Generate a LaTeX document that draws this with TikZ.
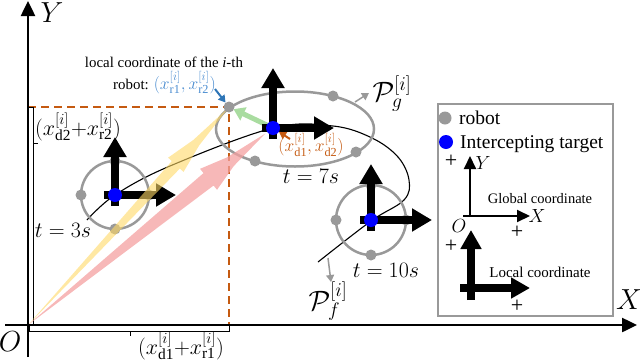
\RequirePackage{fix-cm}
\documentclass[tikz,border=0pt]{standalone}
\usepackage{fontspec}
\setmainfont{Liberation Serif}
\usetikzlibrary{arrows.meta,calc}
\definecolor{dorange}{HTML}{C55A11}
\definecolor{lblue}{HTML}{4A8CD0}
\definecolor{dblue}{HTML}{2E75B6}
\definecolor{rgray}{HTML}{999999}
\definecolor{ygold}{HTML}{FFD966}
\definecolor{pinkr}{HTML}{F4A0A0}
\definecolor{lgreen}{HTML}{A9DCA0}
\newcommand{\fs}[1]{\fontsize{#1}{#1}\selectfont}
\begin{document}
\begin{tikzpicture}[x=1pt,y=-1pt,
  axis/.style={line width=2.5pt,-{Triangle[length=15pt,width=14pt]}},
  frm/.style={line width=8pt,-{Triangle[length=20pt,width=22pt]}},
  thinfrm/.style={line width=2pt,-{Triangle[length=13pt,width=12pt]}},
  rob/.style={draw=rgray,line width=2.5pt},
  gdot/.style={circle,fill=rgray,inner sep=0pt,minimum size=11pt},
  bdot/.style={circle,fill=blue,inner sep=0pt,minimum size=14pt},
  dsh/.style={dorange,line width=2.7pt,dash pattern=on 8pt off 5pt},
  brk/.style={line width=0.8pt},
  garr/.style={rgray,line width=1.5pt,-{Triangle[length=7pt,width=8pt]}},
  lbl/.style={inner sep=0pt},
]
\useasboundingbox (0,0) rectangle (640,362);

% key coordinates
\coordinate (O) at (28,325);
\coordinate (c3) at (115,195);
\coordinate (c7) at (273,128);
\coordinate (c10) at (371,220);
\coordinate (e7) at (295,129);
\coordinate (r7a) at (229,107);
\coordinate (xfoot) at (229,325);
\coordinate (yfoot) at (28,107);

% orange dashed projection lines
\draw[dsh] (yfoot) -- (r7a) -- (xfoot);

% brackets
\draw[brk] (28,107) -- (33,107) -- (33,325);
\draw[brk] (33,143) -- (38,143);
\draw[brk] (29,325) -- (29,331) -- (229,331) -- (229,325);
\draw[brk] (130,331) -- (130,336);
\node[lbl,font=\fs{22}] (ly) at (78,127) {$(x^{[i]}_{\mathrm{d2}}{+}x^{[i]}_{\mathrm{r2}})$};
\node[lbl,font=\fs{22}] (lx) at (181,346) {$(x^{[i]}_{\mathrm{d1}}{+}x^{[i]}_{\mathrm{r1}})$};

% trajectory
\draw[line width=1.1pt] plot[smooth,tension=0.6] coordinates {(87,220) (115,195) (170,166) (273,128) (333,126) (372,138) (398,157) (409,180) (404,200) (371,221) (318,262)};

% robot at t=3s
\draw[rob] (c3) circle[radius=34];
\node[gdot] (r3a) at ($(c3)+(0,-34)$) {};
\node[gdot] (r3b) at ($(c3)+(0,34)$) {};
\node[gdot] (r3c) at ($(c3)+(-34,0)$) {};
\node[gdot] (r3d) at ($(c3)+(34,0)$) {};
\draw[frm] ($(c3)+(0,11)$) -- ($(c3)+(0,-58)$);
\draw[frm] ($(c3)+(-11,0)$) -- ($(c3)+(61,0)$);
\node[bdot] (b3) at (c3) {};

% robot formation at t=7s
\draw[rob] (e7) ellipse[x radius=79, y radius=37.5];
\node[gdot] (r7b) at (333,96) {};
\node[gdot] (r7c) at (356,152) {};
\node[gdot] (r7d) at (255,161) {};

% robot at t=10s
\draw[rob] (c10) circle[radius=35];
\node[gdot] (r10a) at ($(c10)+(0,-35)$) {};
\node[gdot] (r10b) at ($(c10)+(0,35)$) {};
\node[gdot] (r10c) at ($(c10)+(-35,0)$) {};
\node[gdot] (r10d) at ($(c10)+(35,0)$) {};
\draw[frm] ($(c10)+(0,11)$) -- ($(c10)+(0,-56)$);
\draw[frm] ($(c10)+(-11,0)$) -- ($(c10)+(61,0)$);
\node[bdot] (b10) at (c10) {};

% position vectors (translucent)
\begin{scope}[shift={(O)},rotate=47.3]
  \fill[ygold,fill opacity=0.6] (0,0) -- (218,5.5) -- (218,10.5) -- (248,4) -- (296,0) -- (248,-4) -- (218,-10.5) -- (218,-5.5) -- cycle;
\end{scope}
\begin{scope}[shift={(O)},rotate=38.9]
  \fill[pinkr,fill opacity=0.75] (0,0) -- (232,8) -- (232,13.5) -- (260,5.5) -- (305,0) -- (260,-5.5) -- (232,-13.5) -- (232,-8) -- cycle;
\end{scope}

% relative vector
\draw[lgreen,line width=5pt,-{Triangle[length=11pt,width=14pt]},shorten >=5pt] (c7) -- (r7a);
\node[gdot] (r7an) at (r7a) {};

% frame at t=7s
\draw[frm] ($(c7)+(0,11)$) -- ($(c7)+(0,-60)$);
\draw[frm] ($(c7)+(-11,0)$) -- ($(c7)+(61,0)$);
\node[bdot] (b7) at (c7) {};

% axes
\coordinate (Ytip) at (28,1);
\coordinate (Ybot) at (28,357);
\coordinate (Xl) at (5,325);
\coordinate (Xtip) at (637,325);
\draw[axis] (Ybot) -- (Ytip);
\draw[axis] (Xl) -- (Xtip);
\node[lbl,font=\fs{29}] (Ylab) at (52,13) {$Y$};
\node[lbl,font=\fs{29}] (Xlab) at (629,300) {$X$};
\node[lbl,font=\fs{29}] (Olab) at (10,342) {$O$};

% annotations
\node[lbl,font=\fs{14.9}] (note1) at (164,62) {local coordinate of the \textit{i}-th};
\node[lbl,font=\fs{14.9},anchor=west] (note2) at (113,83) {robot: \textcolor{lblue}{\fs{17.5}$(x^{[i]}_{\mathrm{r1}},x^{[i]}_{\mathrm{r2}})$}};
\coordinate (bta) at (215,89);
\draw[dblue,line width=2pt,-{Triangle[length=7pt,width=8pt]}] (bta) -- (r7an);
\node[lbl,font=\fs{17.5},text=dorange] (dlab) at (311,145) {$(x^{[i]}_{\mathrm{d1}},x^{[i]}_{\mathrm{d2}})$};
\coordinate (ota) at (290,139);
\draw[dorange,line width=2pt,-{Triangle[length=7pt,width=8pt]}] (ota) -- (b7);

\node[lbl,font=\fs{22}] (t3) at (63,230) {$t=3s$};
\node[lbl,font=\fs{22}] (t7) at (311,176) {$t=7s$};
\node[lbl,font=\fs{22}] (t10) at (386,270) {$t=10s$};

\node[lbl,font=\fs{28}] (Pg) at (392,94) {$\mathcal{P}^{[i]}_{g}$};
\coordinate (pga) at (355,102);
\coordinate (pgb) at (369,93);
\draw[garr] (pga) -- (pgb);
\node[lbl,font=\fs{28}] (Pf) at (328,301) {$\mathcal{P}^{[i]}_{f}$};
\coordinate (pfa) at (328,258);
\coordinate (pfb) at (331,282);
\draw[garr] (pfa) -- (pfb);

% legend
\draw[rgray,line width=2pt] (438,104) rectangle (613,316);
\node[gdot,minimum size=13pt] (lg1) at (445,118) {};
\node[lbl,font=\fs{19.5},anchor=base west] (lt1) at (459,124) {robot};
\node[bdot] (lg2) at (446,142) {};
\node[lbl,font=\fs{19.5},anchor=base west] (lt2) at (460,148) {Intercepting target};

\coordinate (go) at (470,216);
\draw[thinfrm] ($(go)+(0,1)$) -- ($(go)+(0,-60)$);
\draw[thinfrm] ($(go)+(-7,0)$) -- ($(go)+(60,0)$);
\node[lbl,font=\fs{22}] (gp1) at (451,161) {+};
\node[lbl,font=\fs{19}] (gY) at (483,163) {$Y$};
\node[lbl,font=\fs{19}] (gX) at (537,216) {$X$};
\node[lbl,font=\fs{22}] (gp2) at (517,232) {+};
\node[lbl,font=\fs{19}] (gO) at (459,226) {$O$};
\node[lbl,font=\fs{14.5}] (gtxt) at (540,199) {Global coordinate};

\coordinate (lo) at (471,288);
\draw[frm,-{Triangle[length=19pt,width=20pt]}] ($(lo)+(0,12)$) -- ($(lo)+(0,-58)$);
\draw[frm,-{Triangle[length=19pt,width=20pt]}] ($(lo)+(-11,0)$) -- ($(lo)+(59,0)$);
\node[lbl,font=\fs{22}] (lp1) at (451,246) {+};
\node[lbl,font=\fs{22}] (lp2) at (517,306) {+};
\node[lbl,font=\fs{15}] (ltxt) at (540,272) {Local coordinate};
\end{tikzpicture}
\end{document}
